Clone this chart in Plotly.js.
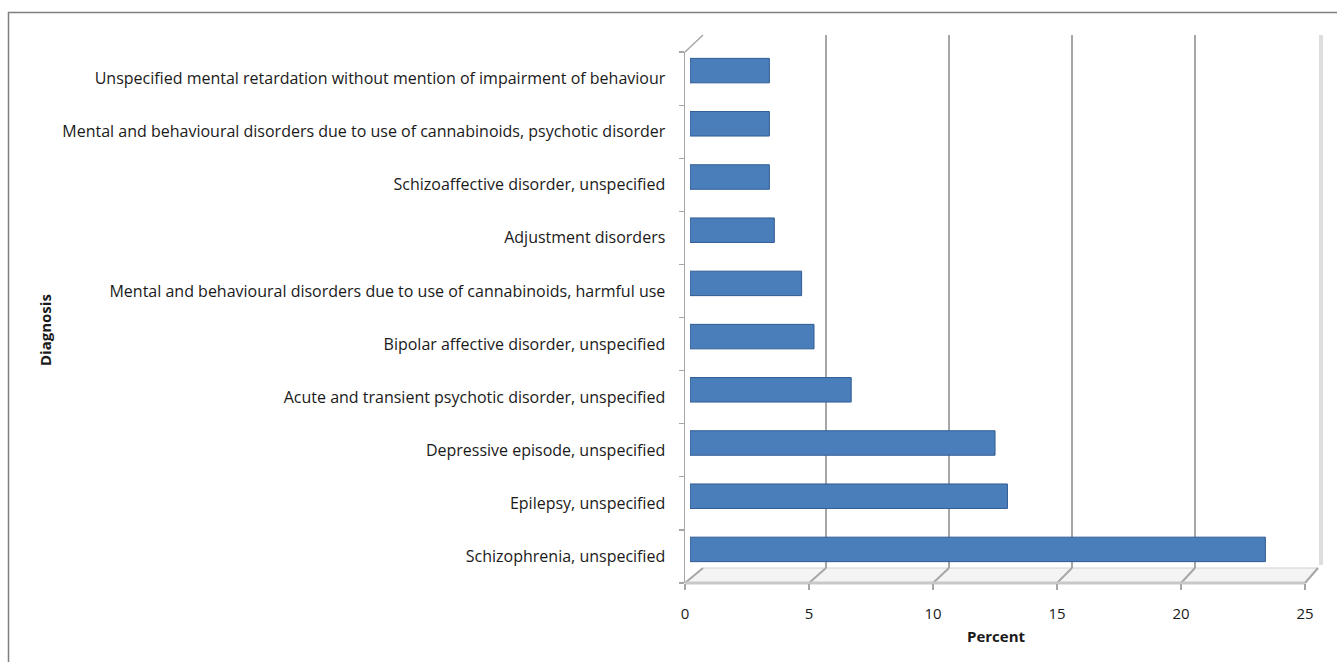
<!DOCTYPE html>
<html>
<head>
<meta charset="utf-8">
<script src="https://cdn.plot.ly/plotly-3.0.1.min.js"></script>
<style>html,body{margin:0;padding:0;background:#fff;}#chart{width:1337px;height:662px;}</style>
</head>
<body>
<div id="chart"></div>
<script>
// Data (bottom to top)
var categories = [
  "Schizophrenia, unspecified",
  "Epilepsy, unspecified",
  "Depressive episode, unspecified",
  "Acute and transient psychotic disorder, unspecified",
  "Bipolar affective disorder, unspecified",
  "Mental and behavioural disorders due to use of cannabinoids, harmful use",
  "Adjustment disorders",
  "Schizoaffective disorder, unspecified",
  "Mental and behavioural disorders due to use of cannabinoids, psychotic disorder",
  "Unspecified mental retardation without mention of impairment of behaviour"
];
var percent = [23.2, 12.8, 12.3, 6.5, 5.0, 4.5, 3.4, 3.2, 3.2, 3.2];
var xTicks = [0, 5, 10, 15, 20, 25];

var W = 1337, H = 662;
function fx(px){ return px / W; }
function fy(px){ return 1 - px / H; }

// pixel geometry of the three planes
var front = {x0: 685, x1: 1305, yTop: 52, yBot: 583};
var back  = {x0: 703, x1: 1318, yTop: 35, yBot: 568};
var mid   = {x0: 690, x1: 1310, yTop: 44, yBot: 576};

var FONT = "'Open Sans', Lato, sans-serif";
var FS = 15;
var n = categories.length;
var catIdx = categories.map(function(_, i){ return i; });
var bounds = [];
for (var b = 0; b <= n; b++) bounds.push(b - 0.5);

var bars = {
  type: 'bar', orientation: 'h',
  x: percent, y: catIdx,
  xaxis: 'x3', yaxis: 'y3',
  width: 0.46,
  marker: {
    color: '#4a7ebb',
    line: {color: '#2f5c93', width: 1}
  },
  hoverinfo: 'x+text', text: categories, textposition: 'none'
};

// invisible helper traces to keep the other subplots alive
var t1 = {type: 'scatter', x: [0], y: [0], xaxis: 'x', yaxis: 'y', mode: 'markers', marker: {opacity: 0}, hoverinfo: 'skip', showlegend: false};
var t2 = {type: 'scatter', x: [0], y: [0], xaxis: 'x2', yaxis: 'y2', mode: 'markers', marker: {opacity: 0}, hoverinfo: 'skip', showlegend: false};

var shapes = [];
// outer border
shapes.push({type: 'rect', xref: 'paper', yref: 'paper', x0: fx(8.5), x1: fx(1345), y0: fy(675), y1: fy(12.5),
  line: {color: '#7f7f7f', width: 1.5}, fillcolor: 'rgba(0,0,0,0)', layer: 'below'});
// floor
function frontPx(v){ return front.x0 + v / 25 * (front.x1 - front.x0); }
function backPx(v){ return back.x0 + v / 25 * (back.x1 - back.x0); }
shapes.push({type: 'path', xref: 'paper', yref: 'paper',
  path: 'M ' + fx(front.x0) + ' ' + fy(front.yBot) + ' L ' + fx(front.x1) + ' ' + fy(front.yBot) +
        ' L ' + fx(back.x1) + ' ' + fy(back.yBot) + ' L ' + fx(back.x0) + ' ' + fy(back.yBot) + ' Z',
  fillcolor: '#f4f4f4', line: {color: '#d0d0d0', width: 1}, layer: 'below'});
xTicks.forEach(function(v){
  shapes.push({type: 'line', xref: 'paper', yref: 'paper',
    x0: fx(frontPx(v)), y0: fy(front.yBot), x1: fx(backPx(v)), y1: fy(back.yBot),
    line: {color: '#a6a6a6', width: 2}, layer: 'below'});
});
// front floor edge (thick)
shapes.push({type: 'line', xref: 'paper', yref: 'paper',
  x0: fx(front.x0), y0: fy(front.yBot), x1: fx(front.x1), y1: fy(front.yBot),
  line: {color: '#c8c8c8', width: 3}, layer: 'below'});
// right wall edge with shadow
shapes.push({type: 'line', xref: 'paper', yref: 'paper',
  x0: fx(back.x1 + 3), y0: fy(back.yTop), x1: fx(back.x1 + 3), y1: fy(back.yBot - 3),
  line: {color: '#dedede', width: 4}, layer: 'below'});
// left wall: top slant
shapes.push({type: 'line', xref: 'paper', yref: 'paper',
  x0: fx(front.x0), y0: fy(front.yTop), x1: fx(back.x0), y1: fy(back.yTop),
  line: {color: '#a6a6a6', width: 1.5}, layer: 'below'});

var layout = {
  width: W, height: H,
  margin: {l: 0, r: 0, t: 0, b: 0},
  paper_bgcolor: '#ffffff', plot_bgcolor: 'rgba(0,0,0,0)',
  showlegend: false,
  font: {family: FONT, size: FS, color: '#1a1a1a'},
  // front plane: tick labels, category labels, front edges
  xaxis: {
    domain: [fx(front.x0), fx(front.x1)], anchor: 'y',
    range: [0, 25], tickvals: xTicks, ticktext: xTicks.map(String),
    showgrid: false, zeroline: false,
    showline: false, ticks: 'outside', ticklen: 6, tickwidth: 1.5, tickcolor: '#a6a6a6',
    ticklabelstandoff: 11,
    tickfont: {family: FONT, size: FS, color: '#1a1a1a'}
  },
  yaxis: {
    domain: [fy(front.yBot), fy(front.yTop)], anchor: 'x',
    range: [-0.5, n - 0.5], tickvals: catIdx, ticktext: categories,
    showgrid: false, zeroline: false,
    showline: true, linecolor: '#a6a6a6', linewidth: 1.5,
    ticks: '', ticklabelstandoff: 15,
    minor: {tickvals: bounds, ticks: 'outside', ticklen: 5, tickcolor: '#a6a6a6', tickwidth: 1.2, showgrid: false},
    tickfont: {family: FONT, size: 16, color: '#1a1a1a'}
  },
  // back plane: gridlines
  xaxis2: {
    domain: [fx(back.x0), fx(back.x1)], anchor: 'y2',
    range: [0, 25], tickvals: xTicks, showticklabels: false,
    showgrid: true, gridcolor: '#a6a6a6', gridwidth: 2.5, zeroline: false, showline: false, ticks: ''
  },
  yaxis2: {
    domain: [fy(back.yBot), fy(back.yTop)], anchor: 'x2',
    range: [0, 1], showticklabels: false, showgrid: false, zeroline: false, showline: false, ticks: ''
  },
  // bar plane
  xaxis3: {
    domain: [fx(mid.x0), fx(mid.x1)], anchor: 'y3',
    range: [0, 25], visible: false
  },
  yaxis3: {
    domain: [fy(mid.yBot), fy(mid.yTop)], anchor: 'x3',
    range: [-0.5, n - 0.5], visible: false
  },
  shapes: shapes,
  annotations: [
    {text: '<b>Percent</b>', xref: 'paper', yref: 'paper', x: fx(996), y: fy(636),
     showarrow: false, font: {family: FONT, size: FS, color: '#1a1a1a'}, xanchor: 'center', yanchor: 'middle'},
    {text: '<b>Diagnosis</b>', xref: 'paper', yref: 'paper', x: fx(45), y: fy(330), textangle: -90,
     showarrow: false, font: {family: FONT, size: FS, color: '#1a1a1a'}, xanchor: 'center', yanchor: 'middle'}
  ]
};

Plotly.newPlot('chart', [t1, t2, bars], layout, {displayModeBar: false, staticPlot: true});
</script>
</body>
</html>
